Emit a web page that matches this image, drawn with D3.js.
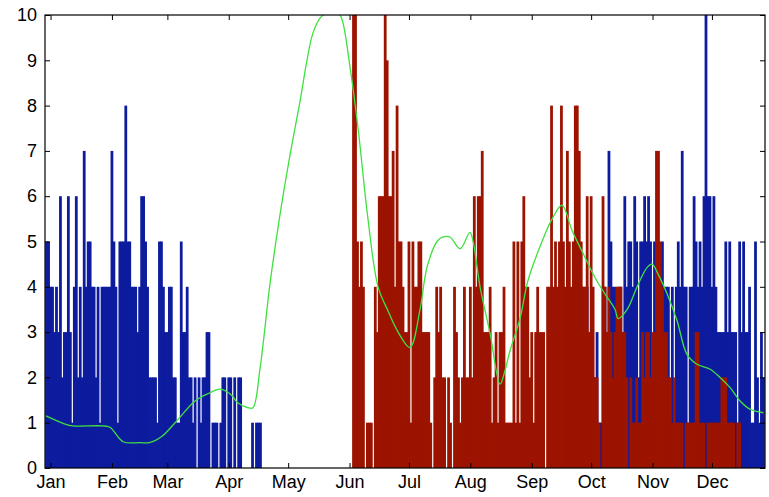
<!DOCTYPE html>
<html><head><meta charset="utf-8">
<script src="https://cdn.jsdelivr.net/npm/d3@7"></script>
<style>body{margin:0;background:#fff}svg{display:block}</style>
</head><body>
<svg id="c" width="769" height="497"></svg>
<script>
// ---- data ----
const monthLabels = ["Jan","Feb","Mar","Apr","May","Jun","Jul","Aug","Sep","Oct","Nov","Dec"];
const monthStartDays = [0,31,59,90,120,151,181,212,243,273,304,334];
const yTickValues = [0,1,2,3,4,5,6,7,8,9,10];

// blue series, winter/spring part (first value = day -2)
const blueStartA = -2;
const blueA = [5,5,
 4,4,3,4,3,6,2,3,3,6,
 3,1,4,6,2,4,2,7,4,5,
 5,4,4,2,4,1,4,4,4,4,
 4,7,5,4,1,5,5,5,8,5,
 5,4,4,4,3,4,6,6,5,4,
 2,2,2,2,1,5,5,4,3,3,
 4,4,2,2,1,1,5,3,3,4,
 2,2,1,2,0,2,1,2,2,3,
 3,0,1,1,1,0,1,2,2,0,
 2,2,0,2,0,2,2,0,0,0,
 0,0,1,0,1,1,1];

// blue series, autumn part (first value = day 268)
const blueStartB = 268;
const blueB = [4,4,3,4,2,3,2,2,3,1,
 1,4,4,3,7,5,4,4,3,4,
 4,3,6,4,5,5,4,6,5,2,
 5,5,6,5,6,5,2,5,4,4,
 3,5,4,4,4,0,4,1,4,5,
 4,7,4,4,1,4,4,6,5,4,
 5,4,6,10,6,6,4,6,4,3,
 3,3,3,5,3,5,3,3,3,1,
 5,3,5,3,3,4,1,1,5,2,
 1,3,2];

// red series (first value = day 153)
const redStart = 153;
const red = [10,10,5,4,5,4,0,1,1,1,
 0,4,3,6,6,6,10,9,6,6,
 7,4,8,5,5,4,3,3,5,1,
 5,4,4,5,5,3,3,3,3,1,
 0,2,4,3,4,2,2,0,2,1,
 0,4,3,2,1,2,4,2,2,4,
 2,6,4,6,6,7,3,3,3,4,
 1,2,3,1,3,3,4,1,1,1,
 1,5,1,5,1,5,6,4,4,2,
 3,1,3,4,3,3,3,0,4,4,
 8,4,5,4,5,8,5,4,7,5,
 4,5,8,8,7,5,4,4,6,3,
 6,4,2,2,1,0,6,4,3,4,
 3,2,3,4,4,4,3,3,2,0,
 2,1,1,2,1,1,3,2,3,3,
 2,3,3,7,7,5,4,3,3,2,
 2,1,2,1,1,1,1,0,1,1,
 1,1,1,3,3,1,1,1,0,1,
 1,1,1,1,1,1,2,2,2,1,
 1,1,1,0,1,1,0,0,0,0,
 0,0,0,0,0,0,0,0];

// smoothed green curve
const smoothDays = [-2.3,7.3,11.3,26,30,36.6,45.2,50,56.3,62.9,73,80,85.6,91.6,94.2,99.7,102.2,105.8,110.8,115.9,120.9,126,129.5,132.5,136.1,139.6,145.2,147.2,151.2,155.3,160.3,165.4,170.4,175.5,181.5,186.6,190.1,195.2,198.2,201.7,206.8,211.8,213.4,216.9,222,227,229.5,232.1,237.1,241.1,248.2,253.3,258.3,263.4,269.9,275,280,285.1,286.6,291.2,296.2,301.3,303.8,306.8,311.4,316.4,321.4,326.5,333.1,338.1,343.1,348.2,353.2,360];
const smoothValues = [1.15,0.97,0.93,0.93,0.9,0.58,0.56,0.56,0.7,1.0,1.48,1.65,1.74,1.6,1.45,1.33,1.33,2.2,4.06,5.6,6.9,8.1,9.0,9.6,9.93,10.05,10.05,9.9,8.86,7.5,5.5,4.0,3.47,3.0,2.66,3.5,4.43,5.0,5.1,5.1,4.84,5.2,5.0,4.0,2.96,1.85,2.15,2.6,3.3,4.14,5.0,5.5,5.8,5.24,4.65,4.2,3.84,3.5,3.3,3.5,4.0,4.43,4.5,4.28,3.84,3.25,2.51,2.29,2.18,2.0,1.78,1.48,1.3,1.22];

// ---- chart ----
const W = 769, H = 497;
const L = 45, R = 765, T = 15, B = 468;
const svg = d3.select('#c');
const x = d3.scaleLinear().domain([-2.8, 360.8]).range([L, R]);
const y = d3.scaleLinear().domain([0, 10]).range([B, T]);

svg.append('defs').append('clipPath').attr('id','plot')
  .append('rect').attr('x', L).attr('y', T).attr('width', R - L).attr('height', B - T);

const plot = svg.append('g').attr('clip-path','url(#plot)');

function series(arr, start){ return arr.map((v,i)=>({day:start+i, v})).filter(d=>d.v>0); }

function drawBars(data, color){
  plot.append('g').selectAll('rect').data(data).join('rect')
    .attr('x', d => x(d.day - 0.5) - 0.4)
    .attr('width', d => x(d.day + 0.5) - x(d.day - 0.5) + 0.8)
    .attr('y', d => y(d.v))
    .attr('height', d => y(0) - y(d.v))
    .attr('fill', color);
}
drawBars(series(blueA, blueStartA).concat(series(blueB, blueStartB)), '#0d1c9e');
drawBars(series(red, redStart), '#9c1300');

const pts = smoothDays.map((d,i)=>[d, smoothValues[i]]);
plot.append('path').datum(pts)
  .attr('d', d3.line().x(d=>x(d[0])).y(d=>y(d[1])).curve(d3.curveCatmullRom))
  .attr('fill','none').attr('stroke','#3fe03f').attr('stroke-width',1.3);

// axes
const font = "'Liberation Sans', Arial, Helvetica, sans-serif";
function styleAxis(g){
  g.select('.domain').remove();
  g.selectAll('line').attr('stroke','#000');
  g.selectAll('text').attr('fill','#000');
  g.attr('font-family', font).attr('font-size', 18);
}
svg.append('g').attr('transform',`translate(${L},0)`)
  .call(d3.axisLeft(y).tickValues(yTickValues).tickSize(-5).tickPadding(8)).call(styleAxis);
svg.append('g').attr('transform',`translate(${R},0)`)
  .call(d3.axisRight(y).tickValues(yTickValues).tickSize(-5).tickFormat('')).call(styleAxis);
svg.append('g').attr('transform',`translate(0,${B})`)
  .call(d3.axisBottom(x).tickValues(monthStartDays).tickFormat((d,i)=>monthLabels[i]).tickSize(-5).tickPadding(7)).call(styleAxis);
svg.append('g').attr('transform',`translate(0,${T})`)
  .call(d3.axisTop(x).tickValues(monthStartDays).tickSize(-5).tickFormat('')).call(styleAxis);

svg.append('rect').attr('x', L).attr('y', T).attr('width', R - L).attr('height', B - T)
  .attr('fill','none').attr('stroke','#000').attr('stroke-width',1.2);
</script>
</body></html>
